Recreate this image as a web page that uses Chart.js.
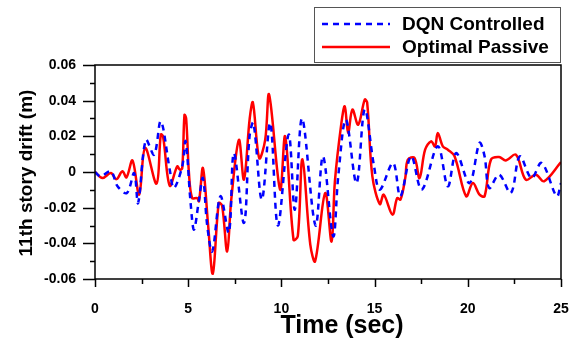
<!DOCTYPE html>
<html>
<head>
<meta charset="utf-8">
<script src="https://cdn.jsdelivr.net/npm/chart.js@4/dist/chart.umd.min.js"></script>
<style>
  html, body { margin: 0; padding: 0; background: #fff; }
  #wrap { width: 578px; height: 338px; }
</style>
</head>
<body>
<div id="wrap"><canvas id="drift-chart" width="578" height="338"></canvas></div>
<script>
// Optimal Passive (red)
const tPassive = [0, 0.40, 0.85, 1.15, 1.47, 1.69, 2.01, 2.37, 2.69, 3.30, 3.53, 3.65, 4.01, 4.41, 4.55, 4.68, 4.80, 4.89,
  5.04, 5.21, 5.48, 5.58, 5.79, 6.07, 6.32, 6.64, 6.82, 7.09, 7.31, 7.72, 7.99, 8.30, 8.47, 8.81, 9.13, 9.34, 9.93,
  10.20, 10.65, 10.88, 11.13, 11.55, 11.81, 12.35, 12.69, 12.87, 13.22, 13.40, 13.58, 13.81, 14.12, 14.47, 14.60, 14.88,
  15.28, 15.49, 15.96, 16.21, 16.39, 16.65, 16.78, 17.14, 17.41, 17.71, 18.03, 18.24, 18.39, 18.66, 18.93, 19.29, 19.91,
  20.27, 20.63, 20.90, 21.24, 21.68, 22.04, 22.58, 23.11, 23.65, 24.09, 25.0];
const vPassive = [0, -0.0034, -0.0006, -0.0040, 0.0004, -0.0030, 0.0065, -0.0127, 0.0135, -0.0065, 0.0210, 0.0200, -0.0077, 0.0032, 0.0013, 0.0022, 0.0320, 0.0300,
  -0.0006, -0.0146, -0.0146, -0.0164, 0.0022, -0.0300, -0.0570, -0.0174, -0.0190, -0.0445, -0.0155, 0.0180, -0.0043, 0.0300, 0.0390, 0.0078, 0.0180, 0.0434, -0.0099,
  0.0200, -0.0380, -0.0360, 0.0071, -0.0407, -0.0500, -0.0118, -0.0390, -0.0052, 0.0275, 0.0368, 0.0219, 0.0350, 0.0265, 0.0406, 0.0390, -0.0024,
  -0.0180, -0.0127, -0.0239, -0.0146, -0.0155, -0.0030, 0.0069, 0.0079, -0.0034, 0.0125, 0.0172, 0.0144, 0.0219, 0.0144, 0.0125, 0.0088, -0.0136,
  -0.0062, -0.0127, -0.0136, 0.0069, 0.0084, 0.0065, 0.0097, -0.0043, -0.0015, -0.0052, 0.0055];

// DQN Controlled (blue)
const tDqn = [0, 0.30, 0.85, 1.21, 1.71, 2.10, 2.31, 2.73, 3.17, 3.53, 4.01, 4.23, 4.68, 4.86, 5.13, 5.31, 5.58, 5.79,
  6.02, 6.29, 6.73, 7.18, 7.45, 7.99, 8.29, 8.50, 8.95, 9.40, 9.81, 10.39, 10.72, 11.11, 11.83, 12.23, 12.78, 13.05,
  13.46, 14.03, 14.47, 14.97, 15.28, 15.99, 16.38, 16.96, 17.53, 18.39, 18.93, 19.38, 20.09, 20.63, 20.90, 21.15, 21.68,
  22.31, 22.79, 23.42, 23.96, 24.77, 25.0];
const vDqn = [0, -0.0024, 0.0004, -0.0080, -0.0118, -0.0006, -0.0174, 0.0180, 0.0097, 0.0284, 0.0013, -0.0090, 0.0032, 0.0172, -0.0174, -0.0323, -0.0155, -0.0034,
  -0.0300, -0.0445, -0.0136, -0.0340, 0.0106, -0.0286, 0.0200, 0.0275, -0.0155, 0.0275, -0.0300, 0.0210, -0.0211, 0.0300, -0.0300, 0.0088, -0.0360, -0.0024,
  0.0293, -0.0062, 0.0350, 0.0032, -0.0099, 0.0050, -0.0136, 0.0088, -0.0099, 0.0144, -0.0080, 0.0106, -0.0062, 0.0163, 0.0088, -0.0090, -0.0015,
  -0.0118, 0.0088, -0.0034, 0.0051, -0.0136, -0.0062];

const seriesNames = ["DQN Controlled", "Optimal Passive"];
const xTicks = [0, 5, 10, 15, 20, 25];
const yTicks = [-0.06, -0.04, -0.02, 0, 0.02, 0.04, 0.06];

const FONT = "'Liberation Sans', Arial, sans-serif";

function toPoints(ts, vs) {
  return ts.map((t, i) => ({ x: t, y: vs[i] }));
}

// frame, ticks, axis titles and legend box
const framePlugin = {
  id: 'frame',
  afterDraw(chart) {
    const ctx = chart.ctx;
    const a = chart.chartArea;
    const xs = chart.scales.x, ys = chart.scales.y;
    ctx.save();
    ctx.strokeStyle = '#000';
    ctx.lineWidth = 1.5;
    ctx.strokeRect(a.left, a.top, a.right - a.left, a.bottom - a.top);

    ctx.beginPath();
    for (let v = -0.06; v <= 0.0601; v += 0.01) {
      const y = Math.round(ys.getPixelForValue(v)) + 0.5;
      const major = Math.abs(Math.round(v * 100)) % 2 === 0;
      ctx.moveTo(a.left - (major ? 12 : 5), y);
      ctx.lineTo(a.left, y);
    }
    for (let t = 0; t <= 25.01; t += 2.5) {
      const x = Math.round(xs.getPixelForValue(t)) + 0.5;
      const major = Math.round(t * 10) % 50 === 0;
      ctx.moveTo(x, a.bottom);
      ctx.lineTo(x, a.bottom + (major ? 8 : 5));
    }
    ctx.stroke();

    // axis titles
    ctx.fillStyle = '#000';
    ctx.font = 'bold 25px ' + FONT;
    ctx.textAlign = 'center';
    ctx.textBaseline = 'middle';
    ctx.fillText('Time (sec)', 342, 326);
    ctx.save();
    ctx.translate(27, 173);
    ctx.rotate(-Math.PI / 2);
    ctx.font = 'bold 19px ' + FONT;
    ctx.fillText('11th story drift (m)', 0, 0);
    ctx.restore();

    // legend
    ctx.fillStyle = '#fff';
    ctx.fillRect(314, 7, 247, 56);
    ctx.strokeStyle = '#555';
    ctx.lineWidth = 1;
    ctx.strokeRect(314.5, 7.5, 246, 55);
    const rows = [24, 47];
    chart.data.datasets.forEach((ds, i) => {
      ctx.beginPath();
      ctx.strokeStyle = ds.borderColor;
      ctx.lineWidth = 2.5;
      ctx.setLineDash(ds.borderDash || []);
      ctx.moveTo(322, rows[i]);
      ctx.lineTo(390, rows[i]);
      ctx.stroke();
      ctx.setLineDash([]);
      ctx.fillStyle = '#000';
      ctx.font = 'bold 19px ' + FONT;
      ctx.textAlign = 'left';
      ctx.textBaseline = 'middle';
      ctx.fillText(ds.label, 402, rows[i] + 1);
    });
    ctx.restore();
  }
};

new Chart(document.getElementById('drift-chart'), {
  type: 'line',
  data: {
    datasets: [
      {
        label: seriesNames[0],
        data: toPoints(tDqn, vDqn),
        borderColor: '#0000ff',
        borderWidth: 2.5,
        borderDash: [6, 5],
        pointRadius: 0,
        tension: 0.35,
        fill: false
      },
      {
        label: seriesNames[1],
        data: toPoints(tPassive, vPassive),
        borderColor: '#ff0000',
        borderWidth: 2.5,
        pointRadius: 0,
        tension: 0.35,
        fill: false
      }
    ]
  },
  options: {
    responsive: false,
    animation: false,
    layout: { padding: { left: 0, top: 65, right: 17, bottom: 0 } },
    plugins: {
      legend: { display: false },
      tooltip: { enabled: false }
    },
    scales: {
      x: {
        type: 'linear',
        min: 0,
        max: 25,
        afterBuildTicks: (s) => { s.ticks = xTicks.map(v => ({ value: v })); },
        afterFit: (s) => { s.height = 59; s.paddingLeft = 0; s.paddingRight = 0; },
        grid: { display: false, drawTicks: false, tickLength: 0 },
        border: { display: false },
        ticks: {
          padding: 22,
          color: '#000',
          font: { family: FONT, size: 14, weight: 'bold' },
          callback: (v) => String(v)
        }
      },
      y: {
        min: -0.06,
        max: 0.06,
        afterBuildTicks: (s) => { s.ticks = yTicks.map(v => ({ value: v })); },
        afterFit: (s) => { s.width = 95; s.paddingTop = 0; s.paddingBottom = 0; },
        grid: { display: false, drawTicks: false, tickLength: 0 },
        border: { display: false },
        ticks: {
          padding: 19,
          color: '#000',
          font: { family: FONT, size: 14, weight: 'bold' },
          callback: (v) => String(Math.round(v * 100) / 100)
        }
      }
    }
  },
  plugins: [framePlugin]
});
</script>
</body>
</html>
